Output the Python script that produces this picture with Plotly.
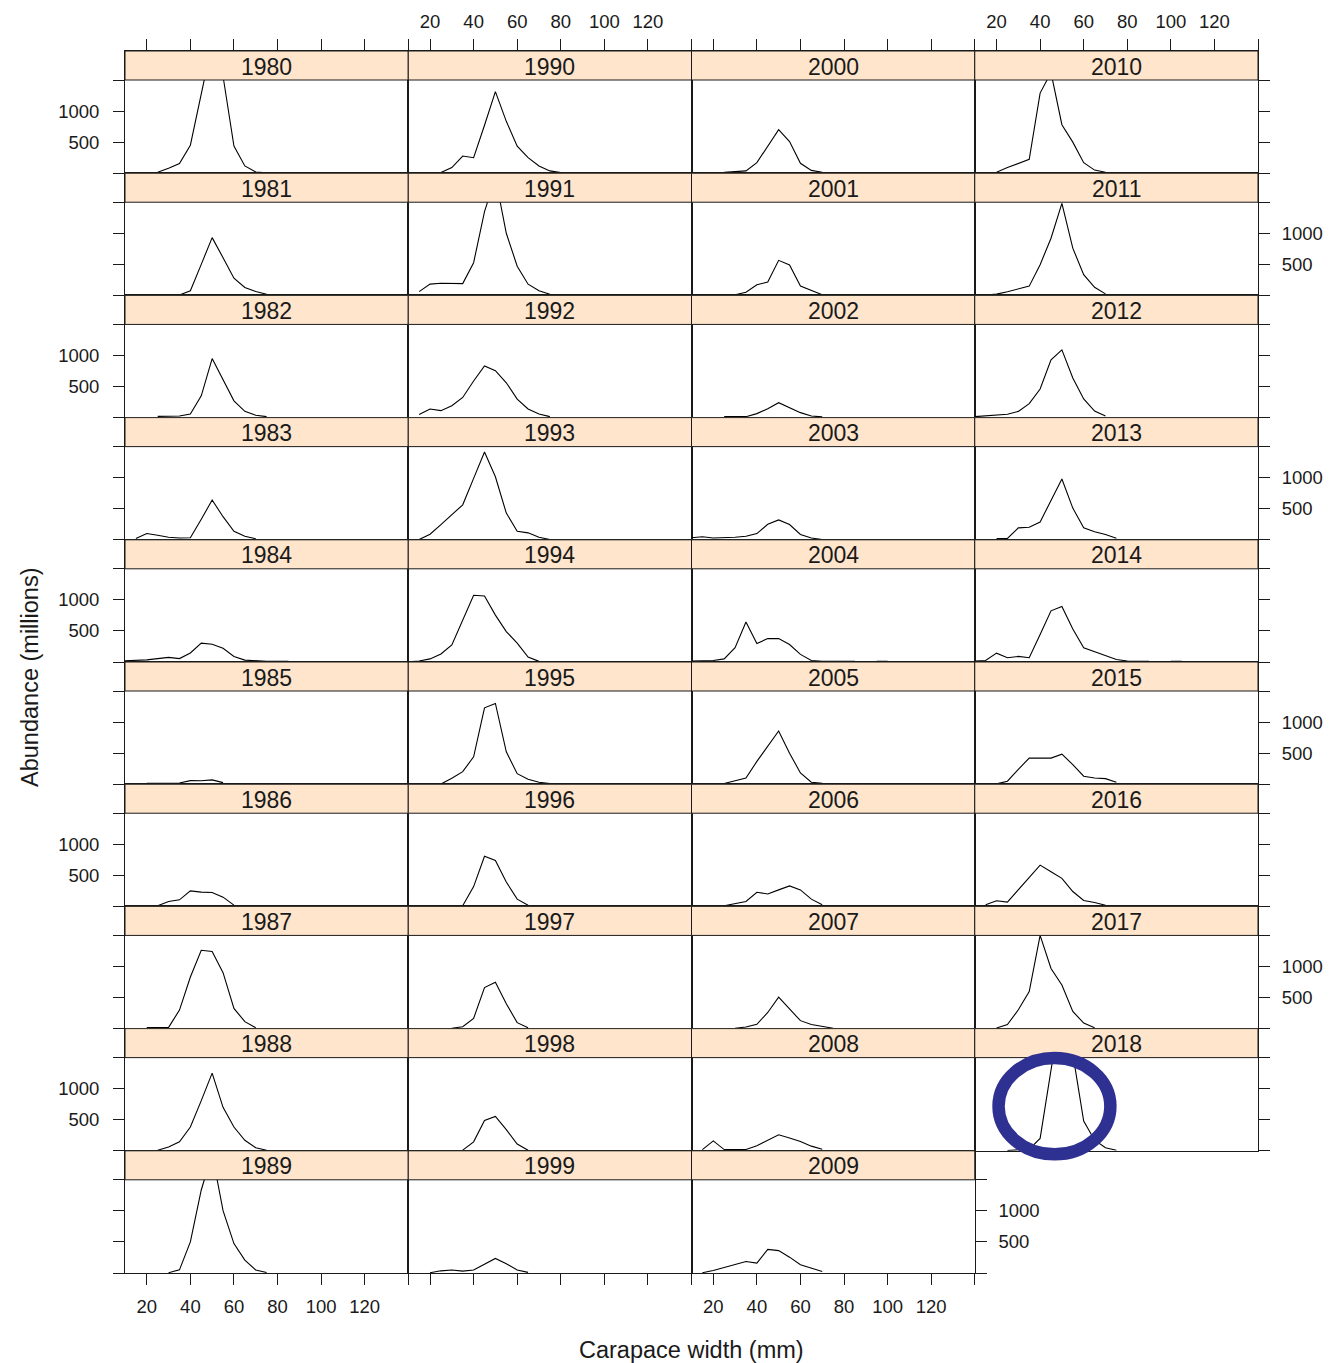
import plotly.graph_objects as go

# ---------------- data (abundance, millions, by carapace width bin, mm) ----------------
WIDTH = [10, 15, 20, 25, 30, 35, 40, 45, 50, 55, 60, 65, 70, 75, 80, 85, 90, 95, 100, 105]
N = None
Y1980 = [N, 10, 10, 15, 80, 155, 451, 1250, 2100, 1560, 436, 117, 20, 5, N, N, N, N, N, N]
Y1981 = [N, N, N, N, N, 5, 74, 500, 930, 606, 276, 128, 64, 20, N, N, N, N, N, N]
Y1982 = [N, N, N, 20, 20, 25, 58, 350, 950, 611, 270, 100, 37, 16, N, N, N, N, N, N]
Y1983 = [N, 21, 101, 74, 40, 30, 32, 330, 640, 372, 138, 58, 16, N, N, N, N, N, N, N]
Y1984 = [20, 25, 35, 55, 75, 55, 145, 303, 285, 220, 90, 30, 16, 10, 10, 10, N, N, N, N]
Y1985 = [N, N, 15, 16, 16, 20, 58, 55, 70, 25, N, N, N, N, N, N, N, N, N, N]
Y1986 = [N, N, N, 10, 80, 106, 250, 229, 224, 149, 20, N, N, N, N, N, N, N, N, N]
Y1987 = [N, N, 15, 15, 20, 298, 830, 1260, 1240, 900, 325, 112, 15, N, N, N, N, N, N, N]
Y1988 = [N, N, N, 10, 60, 144, 383, 808, 1250, 700, 383, 170, 50, 10, N, N, N, N, N, N]
Y1989 = [N, N, N, N, 5, 50, 500, 1336, 1920, 1004, 473, 207, 48, 8, N, N, N, N, N, N]
Y1990 = [N, N, N, 10, 90, 276, 250, 771, 1313, 835, 436, 250, 117, 37, 10, N, N, N, N, N]
Y1991 = [N, 60, 181, 196, 192, 190, 526, 1350, 1900, 1000, 470, 180, 74, 20, N, N, N, N, N, N]
Y1992 = [N, 50, 138, 112, 190, 324, 590, 830, 755, 560, 297, 138, 58, 16, N, N, N, N, N, N]
Y1993 = [N, 5, 90, 245, 404, 563, 989, 1414, 1015, 430, 138, 112, 42, 5, N, N, N, N, N, N]
Y1994 = [5, 15, 50, 130, 276, 675, 1074, 1063, 755, 490, 303, 80, 10, 8, 8, 8, 8, 8, N, N]
Y1995 = [N, N, N, 5, 96, 202, 441, 1230, 1300, 521, 170, 80, 32, 10, N, N, N, N, N, N]
Y1996 = [N, N, N, N, N, 10, 319, 808, 740, 393, 117, 20, N, N, N, N, N, N, N, N]
Y1997 = [N, N, N, N, 5, 30, 165, 660, 745, 400, 96, 15, N, N, N, N, N, N, N, N]
Y1998 = [N, N, N, N, N, 10, 144, 489, 553, 340, 110, 10, N, N, N, N, N, N, N, N]
Y1999 = [N, N, 5, 35, 48, 30, 48, 140, 234, 150, 48, 10, N, N, N, N, N, N, N, N]
Y2000 = [N, 10, 10, 15, 25, 38, 170, 436, 700, 510, 160, 45, 15, N, N, N, N, N, N, N]
Y2001 = [N, N, N, N, 10, 50, 170, 215, 564, 490, 150, 75, 10, N, N, N, N, N, N, N]
Y2002 = [N, N, N, 15, 15, 15, 64, 144, 240, 160, 80, 25, 12, N, N, N, N, N, N, N]
Y2003 = [32, 50, 30, 35, 40, 58, 100, 250, 320, 245, 85, 30, 5, N, N, N, N, N, N, N]
Y2004 = [15, 20, 25, 50, 230, 643, 297, 377, 377, 282, 122, 25, 10, 10, 10, 10, N, 10, 10, N]
Y2005 = [N, N, N, 10, 60, 100, 367, 611, 856, 500, 180, 32, 16, N, N, N, N, N, N, N]
Y2006 = [N, N, N, 10, 50, 80, 228, 200, 266, 330, 266, 117, 27, N, N, N, N, N, N, N]
Y2007 = [N, N, N, N, 5, 25, 70, 260, 505, 320, 128, 65, 30, 5, N, N, N, N, N, N]
Y2008 = [N, 20, 160, 20, 20, 20, 80, 170, 257, 205, 150, 75, 25, N, N, N, N, N, N, N]
Y2009 = [N, 5, 40, 90, 140, 186, 160, 380, 360, 255, 133, 80, 25, N, N, N, N, N, N, N]
Y2010 = [10, 10, 15, 90, 155, 223, 1290, 1620, 781, 500, 170, 50, 15, N, N, N, N, N, N, N]
Y2011 = [N, 5, 20, 60, 100, 149, 495, 920, 1480, 760, 335, 130, 25, N, N, N, N, N, N, N]
Y2012 = [15, 30, 45, 53, 100, 225, 460, 930, 1090, 638, 300, 106, 25, N, N, N, N, N, N, N]
Y2013 = [N, N, 20, 21, 192, 202, 287, 643, 978, 510, 192, 130, 85, 25, N, N, N, N, N, N]
Y2014 = [15, 25, 143, 69, 90, 69, 441, 824, 893, 530, 228, 165, 112, 40, 15, 12, 12, N, 12, 12]
Y2015 = [N, N, 5, 48, 240, 420, 420, 420, 484, 315, 128, 100, 90, 30, N, N, N, N, N, N]
Y2016 = [N, 25, 90, 69, 266, 452, 665, 558, 452, 240, 96, 64, 18, N, N, N, N, N, N, N]
Y2017 = [N, N, 10, 64, 303, 596, 1500, 968, 702, 276, 90, 15, N, N, N, N, N, N, N, N]
Y2018 = [N, N, N, 5, 10, 25, 200, 1300, 2400, 1560, 480, 170, 50, 10, N, N, N, N, N, N]

YEARS = list(range(1980, 2019))
SERIES = [Y1980, Y1981, Y1982, Y1983, Y1984, Y1985, Y1986, Y1987, Y1988, Y1989,
          Y1990, Y1991, Y1992, Y1993, Y1994, Y1995, Y1996, Y1997, Y1998, Y1999,
          Y2000, Y2001, Y2002, Y2003, Y2004, Y2005, Y2006, Y2007, Y2008, Y2009,
          Y2010, Y2011, Y2012, Y2013, Y2014, Y2015, Y2016, Y2017, Y2018]

X_TICKS = [20, 40, 60, 80, 100, 120, 140]
X_TICKTEXT = ["20", "40", "60", "80", "100", "120", ""]
Y_TICKS = [0, 500, 1000, 1500]
Y_TICKTEXT = ["", "500", "1000", ""]

X_RANGE = [10, 140]
Y_PANEL_TOP = 1500          # top of the data panel
Y_STRIP_TOP = 1967          # top of the strip (panel + strip share one axis)

NCOL, NROW = 4, 10
FONT = "Liberation Sans, Arial, sans-serif"
STRIP_FILL = "#FFE5CC"
INK = "#1a1a1a"

fig = go.Figure()
layout = {}
shapes = []
annotations = []

for i, (year, vals) in enumerate(zip(YEARS, SERIES), start=1):
    c = (year - 1980) // 10
    r = (year - 1980) % 10
    sfx = "" if i == 1 else str(i)
    xa_name, ya_name = f"xaxis{sfx}", f"yaxis{sfx}"
    xs, ys = f"x{sfx}", f"y{sfx}"

    fig.add_trace(go.Scatter(x=WIDTH, y=vals, mode="lines", xaxis=xs, yaxis=ys,
                             line=dict(color="black", width=1.1), connectgaps=False,
                             showlegend=False, hoverinfo="skip"))

    xa = dict(domain=[c / NCOL, (c + 1) / NCOL], range=X_RANGE, anchor=ys,
              showline=True, linecolor=INK, linewidth=1, mirror=True, automargin=False,
              showgrid=False, zeroline=False, ticks="", showticklabels=False,
              tickmode="array", tickvals=X_TICKS, ticktext=X_TICKTEXT,
              tickcolor=INK, ticklen=11, tickwidth=1,
              tickfont=dict(family=FONT, size=18.5, color=INK), fixedrange=True)
    ya = dict(domain=[1 - (r + 1) / NROW, 1 - r / NROW], range=[0, Y_STRIP_TOP], anchor=xs,
              showline=True, linecolor=INK, linewidth=1, mirror=True, automargin=False,
              showgrid=False, zeroline=False, ticks="", showticklabels=False,
              tickmode="array", tickvals=Y_TICKS, ticktext=Y_TICKTEXT,
              tickcolor=INK, ticklen=11, tickwidth=1,
              tickfont=dict(family=FONT, size=18.5, color=INK), fixedrange=True)

    if r == 0:
        xa.update(side="top", ticks="outside", showticklabels=(c in (1, 3)),
                  ticklabelstandoff=4)
    if r == NROW - 1:
        xa.update(side="bottom", ticks="outside", showticklabels=(c in (0, 2)),
                  ticklabelstandoff=6)
    if c == 0:
        ya.update(side="left", ticks="outside", showticklabels=(r % 2 == 0),
                  ticklabelstandoff=10)
    if c == 3 or year == 2009:
        ya.update(side="right", ticks="outside", showticklabels=(r % 2 == 1),
                  ticklabelstandoff=8)

    layout[xa_name] = xa
    layout[ya_name] = ya

    # strip
    shapes.append(dict(type="rect", xref=f"{xs} domain", yref=ys, x0=0, x1=1,
                       y0=Y_PANEL_TOP, y1=Y_STRIP_TOP, fillcolor=STRIP_FILL,
                       line=dict(color=INK, width=1), layer="above"))
    annotations.append(dict(text=str(year), xref=f"{xs} domain", yref=ys, x=0.5,
                            y=(Y_PANEL_TOP + Y_STRIP_TOP) / 2, yshift=-1,
                            showarrow=False, xanchor="center", yanchor="middle",
                            font=dict(family=FONT, size=23, color=INK)))

# highlight ellipse around 2018
shapes.append(dict(type="circle", xref="paper", yref="paper",
                   x0=0.7710, x1=0.8697, y0=0.0971, y1=0.1759,
                   line=dict(color="#2E3192", width=12.5), fillcolor="rgba(0,0,0,0)",
                   layer="above"))

annotations.append(dict(text="Carapace width (mm)", xref="paper", yref="paper",
                        x=0.5, y=-0.0628, showarrow=False, xanchor="center", yanchor="middle",
                        font=dict(family=FONT, size=23.5, color=INK)))
annotations.append(dict(text="Abundance (millions)", xref="paper", yref="paper",
                        x=-0.0838, y=0.487, textangle=-90, showarrow=False,
                        xanchor="center", yanchor="middle",
                        font=dict(family=FONT, size=23.5, color=INK)))

fig.update_layout(width=1329, height=1363,
                  margin=dict(l=125, r=71, t=51, b=90, pad=0, autoexpand=False),
                  paper_bgcolor="white", plot_bgcolor="white",
                  font=dict(family=FONT, color=INK),
                  shapes=shapes, annotations=annotations, showlegend=False,
                  **layout)

fig.write_html("out.html", config={"displayModeBar": False},
               post_script="document.body.style.margin='0';document.body.style.overflow='hidden';")
